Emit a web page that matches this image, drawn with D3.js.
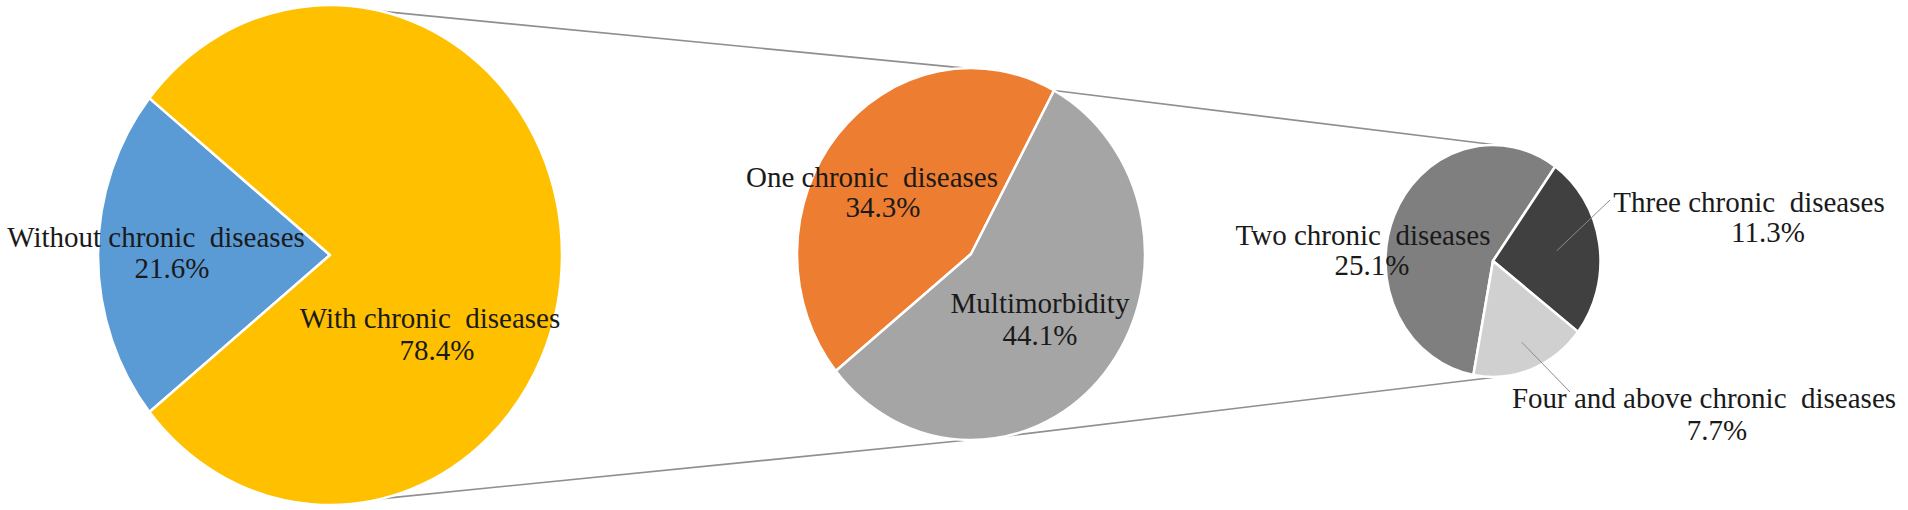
<!DOCTYPE html>
<html>
<head>
<meta charset="utf-8">
<script src="https://cdn.jsdelivr.net/npm/d3@7"></script>
<style>
  html, body { margin: 0; padding: 0; background: #ffffff; }
  svg { display: block; }
</style>
</head>
<body>
<script>
// ---------- data ----------
const level1Labels = ["Without chronic  diseases", "With chronic  diseases"];
const level1Values = [21.6, 78.4];
const level2Labels = ["One chronic  diseases", "Multimorbidity"];
const level2Values = [34.3, 44.1];
const level3Labels = ["Two chronic  diseases", "Three chronic  diseases", "Four and above chronic  diseases"];
const level3Values = [25.1, 11.3, 7.7];

// ---------- styles / layout ----------
const level1Colors = ["#5B9BD5", "#FFC000"];
const level2Colors = ["#ED7D31", "#A5A5A5"];
const level3Colors = ["#7F7F7F", "#404040", "#D0D0D0"];
const FONT = "'Liberation Serif', Tinos, 'Times New Roman', Times, 'DejaVu Serif', 'Noto Serif', serif";

const W = 1908, H = 510;
const deg = Math.PI / 180;
const fmt = v => d3.format(".1f")(v) + "%";

const pies = [
  { labels: level1Labels, values: level1Values, colors: level1Colors,
    cx: 330, cy: 255, rx: 232, ry: 250, start: 231.1,
    labelPos: [ { x: 156, y: 247, px: 172, py: 278 }, { x: 430, y: 328, px: 437, py: 360 } ] },
  { labels: level2Labels, values: level2Values, colors: level2Colors,
    cx: 971, cy: 254, rx: 174, ry: 186, start: 231,
    labelPos: [ { x: 872, y: 187, px: 883, py: 217 }, { x: 1040, y: 313, px: 1040, py: 345 } ] },
  { labels: level3Labels, values: level3Values, colors: level3Colors,
    cx: 1493, cy: 261, rx: 107.5, ry: 116, start: 190.5,
    labelPos: [ { x: 1363, y: 245, px: 1372, py: 275 }, { x: 1749, y: 212, px: 1768, py: 242 }, { x: 1704, y: 408, px: 1717, py: 440 } ] }
];

const svg = d3.select("body").append("svg")
  .attr("width", W).attr("height", H)
  .attr("viewBox", `0 0 ${W} ${H}`);
svg.append("rect").attr("width", W).attr("height", H).attr("fill", "#ffffff");

pies.forEach(p => {
  const s = p.start * deg;
  p.arcs = d3.pie().sort(null).startAngle(s).endAngle(s + 2 * Math.PI)(p.values);
  p.pt = (a, f = 1) => [p.cx + f * p.rx * Math.sin(a), p.cy - f * p.ry * Math.cos(a)];
});

// ---------- connector lines ----------
const [P1, P2, P3] = pies;
const connectors = [
  [P1.pt(13 * deg), P2.pt(-2 * deg)],
  [P1.pt(167 * deg), P2.pt(181 * deg)],
  [P2.pt(P2.arcs[0].endAngle), P3.pt(2 * deg)],
  [P2.pt(179 * deg), P3.pt(178 * deg)]
];
svg.append("g").selectAll("line").data(connectors).join("line")
  .attr("x1", d => d[0][0]).attr("y1", d => d[0][1])
  .attr("x2", d => d[1][0]).attr("y2", d => d[1][1])
  .attr("stroke", "#8f8f8f").attr("stroke-width", 1.6);

// ---------- pies ----------
pies.forEach(p => {
  const arc = d3.arc().innerRadius(0).outerRadius(p.rx);
  const g = svg.append("g")
    .attr("transform", `translate(${p.cx},${p.cy}) scale(1,${p.ry / p.rx})`);
  g.selectAll("path").data(p.arcs).join("path")
    .attr("d", arc)
    .attr("fill", (d, i) => p.colors[i])
    .attr("stroke", "#ffffff")
    .attr("stroke-width", 2.5)
    .attr("stroke-linejoin", "round")
    .attr("vector-effect", "non-scaling-stroke");
});

// ---------- leader lines ----------
const leaders = [
  { arc: P3.arcs[1], frac: 0.6, to: [1610, 200] },
  { arc: P3.arcs[2], frac: 0.75, to: [1570, 392] }
];
svg.append("g").selectAll("line").data(leaders).join("line")
  .attr("x1", d => P3.pt((d.arc.startAngle + d.arc.endAngle) / 2, d.frac)[0])
  .attr("y1", d => P3.pt((d.arc.startAngle + d.arc.endAngle) / 2, d.frac)[1])
  .attr("x2", d => d.to[0]).attr("y2", d => d.to[1])
  .attr("stroke", "#8c8c8c").attr("stroke-width", 1);

// ---------- labels ----------
pies.forEach(p => {
  const lg = svg.append("g");
  p.labels.forEach((lab, i) => {
    const lp = p.labelPos[i];
    [[lp.x, lp.y, lab], [lp.px, lp.py, fmt(p.values[i])]].forEach(([x, y, t]) => {
      lg.append("text").attr("x", x).attr("y", y)
        .attr("text-anchor", "middle")
        .attr("font-family", FONT)
        .attr("font-size", 29)
        .attr("fill", "#1a1a1a")
        .attr("xml:space", "preserve")
        .style("white-space", "pre")
        .text(t);
    });
  });
});
</script>
</body>
</html>
